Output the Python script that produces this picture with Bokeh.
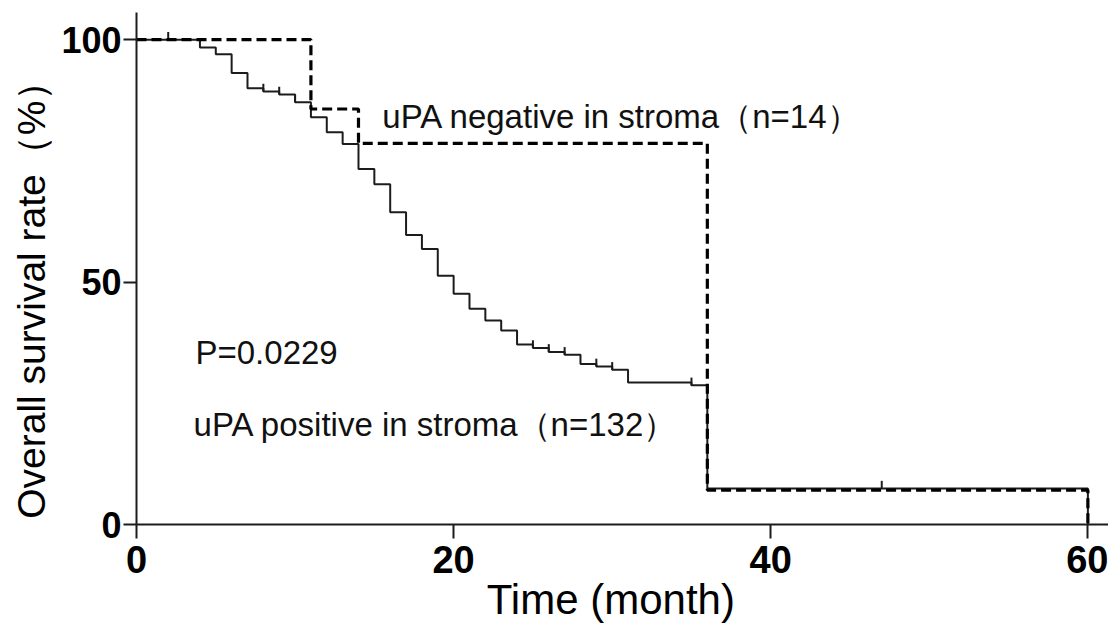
import numpy as np
from bokeh.plotting import figure
from bokeh.models import Range1d, FixedTicker, Label
from bokeh.embed import file_html
from bokeh.resources import INLINE

# ---- data ----
pos_time = [0, 4, 5, 6, 7, 8, 9, 10, 11, 12, 13, 14, 15, 16, 17, 18, 19, 20,
            21, 22, 23, 24, 25, 26, 27, 28, 29, 30, 31, 35, 36, 60]
pos_surv = [100, 98.4, 97.0, 93.1, 90.0, 89.3, 88.7, 87.1, 84.0, 80.9, 78.5,
            73.3, 70.2, 64.4, 59.7, 56.8, 51.3, 47.6, 44.5, 42.1, 40.0, 37.1,
            36.4, 35.6, 35.0, 33.1, 32.6, 31.9, 29.3, 28.7, 7.4, 0]
pos_censor = [2, 8, 9, 10, 25, 26, 27, 29, 30, 35, 47]

neg_time = [0, 11, 14, 36, 60]
neg_surv = [100, 85.7, 78.6, 7.1, 0]
neg_censor = []

x_ticks = [0, 20, 40, 60]
y_ticks = [0, 50, 100]

x_title = "Time (month)"
y_title = "Overall survival rate（%）"
label_neg = "uPA negative in stroma（n=14）"
label_pos = "uPA positive in stroma（n=132）"
label_p = "P=0.0229"

# ---- figure ----
FONT = "Liberation Sans"
INK = "#1c1c1c"
NBSP = "\u00a0"

p = figure(width=1108, height=628, output_backend="svg", toolbar_location=None,
           x_range=Range1d(0, 61.3), y_range=Range1d(0, 105.6),
           min_border_left=136, min_border_right=0, min_border_top=12,
           min_border_bottom=104)
p.outline_line_color = None
p.grid.visible = False
p.background_fill_color = "white"
p.border_fill_color = "white"


def surv_at(times, surv, t):
    idx = np.searchsorted(np.array(times), t, side="right") - 1
    return surv[idx]


# positive (solid)
p.step(pos_time, pos_surv, mode="after", line_color=INK, line_width=2)
cy = [surv_at(pos_time, pos_surv, t) for t in pos_censor]
p.segment(x0=pos_censor, y0=cy, x1=pos_censor, y1=[v + 1.6 for v in cy],
          line_color=INK, line_width=2)

# negative (dashed)
p.step(neg_time, neg_surv, mode="after", line_color="#000000", line_width=3.2,
       line_dash="10 5")
if neg_censor:
    ny = [surv_at(neg_time, neg_surv, t) for t in neg_censor]
    p.segment(x0=neg_censor, y0=ny, x1=neg_censor, y1=[v + 1.6 for v in ny],
              line_color="#000", line_width=2.5)

# axes
for ax in (p.xaxis[0], p.yaxis[0]):
    ax.axis_line_width = 2
    ax.axis_line_color = INK
    ax.major_tick_line_color = INK
    ax.major_tick_line_width = 2
    ax.minor_tick_line_color = None
    ax.major_tick_in = 0
    ax.major_label_text_font = FONT
    ax.major_label_text_font_style = "bold"
    ax.major_label_text_color = "#000"
    ax.axis_label_text_font = FONT
    ax.axis_label_text_font_style = "normal"
    ax.axis_label_text_color = "#000"

p.xaxis.ticker = FixedTicker(ticks=x_ticks)
p.yaxis.ticker = FixedTicker(ticks=y_ticks)
p.xaxis.major_tick_out = 14
p.yaxis.major_tick_out = 13
p.xaxis.major_label_text_font_size = "38px"
p.yaxis.major_label_text_font_size = "36px"
p.xaxis.major_label_standoff = 7
p.yaxis.major_label_standoff = 2
p.xaxis.axis_label = x_title + NBSP * 2
p.yaxis.axis_label = y_title + NBSP * 4
p.xaxis.axis_label_text_font_size = "42px"
p.yaxis.axis_label_text_font_size = "39px"
p.xaxis.axis_label_standoff = 0
p.yaxis.axis_label_standoff = 5

# annotations
for txt, x, y in [(label_neg, 15.5, 84.2), (label_p, 3.72, 35.5), (label_pos, 3.6, 20.6)]:
    p.add_layout(Label(x=x, y=y, text=txt, text_font=FONT, text_font_size="33px",
                       text_color="#111", text_baseline="alphabetic"))

open("out.html", "w").write(file_html(p, INLINE))
